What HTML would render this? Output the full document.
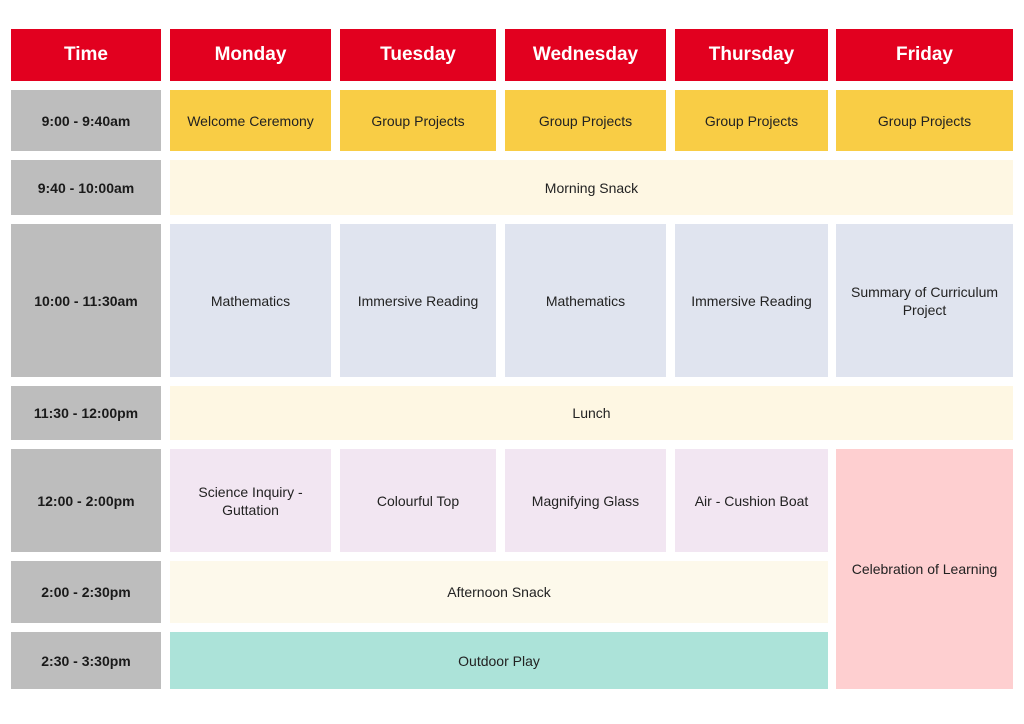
<!DOCTYPE html>
<html><head><style>
body{margin:0;width:1024px;height:724px;background:#fff;position:relative;font-family:"Liberation Sans",sans-serif;overflow:hidden}
div.c{position:absolute;display:flex;align-items:center;justify-content:center;text-align:center;font-size:14px;color:#222;line-height:18px}
.h{background:#E2001F;color:#fff!important;font-weight:bold;font-size:19px!important}
.t{background:#BDBDBD;font-weight:bold;color:#1a1a1a!important;font-size:14px}
.y{background:#F9CD45}.cr{background:#FEF7E3}.b{background:#E0E4EF}.p{background:#F2E6F2}.g{background:#ACE3D9}.k{background:#FECFD0}.s{background:#FDF9EB}
</style></head><body>
<div class="c h" style="left:11px;top:29px;width:150px;height:52px">Time</div>
<div class="c h" style="left:170px;top:29px;width:161px;height:52px">Monday</div>
<div class="c h" style="left:340px;top:29px;width:156px;height:52px">Tuesday</div>
<div class="c h" style="left:505px;top:29px;width:161px;height:52px">Wednesday</div>
<div class="c h" style="left:675px;top:29px;width:153px;height:52px">Thursday</div>
<div class="c h" style="left:836px;top:29px;width:177px;height:52px">Friday</div>

<div class="c t" style="left:11px;top:90px;width:150px;height:61px">9:00 - 9:40am</div>
<div class="c y" style="left:170px;top:90px;width:161px;height:61px">Welcome Ceremony</div>
<div class="c y" style="left:340px;top:90px;width:156px;height:61px">Group Projects</div>
<div class="c y" style="left:505px;top:90px;width:161px;height:61px">Group Projects</div>
<div class="c y" style="left:675px;top:90px;width:153px;height:61px">Group Projects</div>
<div class="c y" style="left:836px;top:90px;width:177px;height:61px">Group Projects</div>

<div class="c t" style="left:11px;top:160px;width:150px;height:55px">9:40 - 10:00am</div>
<div class="c cr" style="left:170px;top:160px;width:843px;height:55px">Morning Snack</div>

<div class="c t" style="left:11px;top:224px;width:150px;height:153px">10:00 - 11:30am</div>
<div class="c b" style="left:170px;top:224px;width:161px;height:153px">Mathematics</div>
<div class="c b" style="left:340px;top:224px;width:156px;height:153px">Immersive Reading</div>
<div class="c b" style="left:505px;top:224px;width:161px;height:153px">Mathematics</div>
<div class="c b" style="left:675px;top:224px;width:153px;height:153px">Immersive Reading</div>
<div class="c b" style="left:836px;top:224px;width:177px;height:153px">Summary of Curriculum<br>Project</div>

<div class="c t" style="left:11px;top:386px;width:150px;height:54px">11:30 - 12:00pm</div>
<div class="c cr" style="left:170px;top:386px;width:843px;height:54px">Lunch</div>

<div class="c t" style="left:11px;top:449px;width:150px;height:103px">12:00 - 2:00pm</div>
<div class="c p" style="left:170px;top:449px;width:161px;height:103px">Science Inquiry -<br>Guttation</div>
<div class="c p" style="left:340px;top:449px;width:156px;height:103px">Colourful Top</div>
<div class="c p" style="left:505px;top:449px;width:161px;height:103px">Magnifying Glass</div>
<div class="c p" style="left:675px;top:449px;width:153px;height:103px">Air - Cushion Boat</div>
<div class="c k" style="left:836px;top:449px;width:177px;height:240px">Celebration of Learning</div>

<div class="c t" style="left:11px;top:561px;width:150px;height:62px">2:00 - 2:30pm</div>
<div class="c s" style="left:170px;top:561px;width:658px;height:62px">Afternoon Snack</div>

<div class="c t" style="left:11px;top:632px;width:150px;height:57px">2:30 - 3:30pm</div>
<div class="c g" style="left:170px;top:632px;width:658px;height:57px">Outdoor Play</div>
</body></html>
